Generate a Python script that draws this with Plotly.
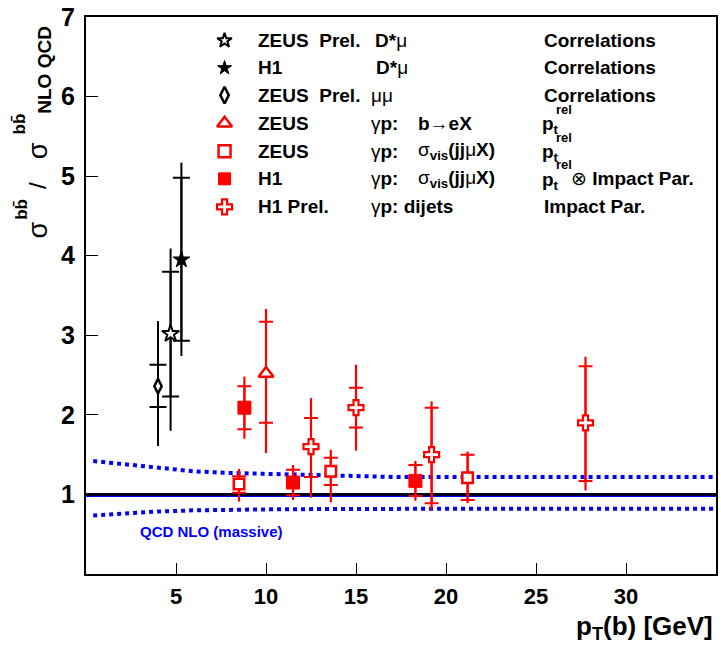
import plotly.graph_objects as go

# ---------------- data ----------------
# ZEUS Prel. D*mu correlations (open star)
zdm_x = [4.7]
zdm_y = [3.02]
zdm_tot_hi = [4.09]
zdm_tot_lo = [1.80]
zdm_st_hi = [3.80]
zdm_st_lo = [2.23]

# H1 D*mu correlations (filled star)
hdm_x = [5.3]
hdm_y = [3.95]
hdm_tot_hi = [5.17]
hdm_tot_lo = [2.74]
hdm_st_hi = [4.98]
hdm_st_lo = [2.93]

# ZEUS Prel. mu mu correlations (open diamond)
zmm_x = [4.0]
zmm_y = [2.36]
zmm_tot_hi = [3.18]
zmm_tot_lo = [1.61]
zmm_st_hi = [2.63]
zmm_st_lo = [2.10]

# ZEUS gp b->eX ptrel (open triangle)
zbe_x = [10.0]
zbe_y = [2.52]
zbe_tot_hi = [3.33]
zbe_tot_lo = [1.52]
zbe_st_hi = [3.17]
zbe_st_lo = [1.90]

# ZEUS gp sigma_vis(jj mu X) ptrel (open square)
zjj_x = [8.5, 13.6, 21.2]
zjj_y = [1.13, 1.29, 1.21]
zjj_tot_hi = [1.32, 1.56, 1.54]
zjj_tot_lo = [0.91, 0.90, 0.89]
zjj_st_hi = [1.23, 1.46, 1.50]
zjj_st_lo = [1.02, 1.12, 0.93]

# H1 gp sigma_vis(jj mu X) ptrel x impact par (filled square)
hjj_x = [8.8, 11.5, 18.3]
hjj_y = [2.09, 1.15, 1.17]
hjj_tot_hi = [2.48, 1.37, 1.42]
hjj_tot_lo = [1.70, 0.93, 0.92]
hjj_st_hi = [2.36, 1.31, 1.37]
hjj_st_lo = [1.82, 0.99, 0.98]

# H1 Prel. gp dijets impact par (open cross)
hdj_x = [12.5, 15.0, 19.2, 27.75]
hdj_y = [1.60, 2.09, 1.50, 1.90]
hdj_tot_hi = [2.21, 2.63, 2.17, 2.73]
hdj_tot_lo = [0.96, 1.55, 0.81, 1.05]
hdj_st_hi = [1.96, 2.34, 2.09, 2.61]
hdj_st_lo = [1.22, 1.84, 0.89, 1.17]

# QCD NLO (massive) uncertainty band and reference line
nlo_x = [0.4, 2, 4, 6, 8, 10, 12, 14, 17, 20, 25, 30, 35]
nlo_up = [1.42, 1.38, 1.33, 1.29, 1.27, 1.26, 1.25, 1.23, 1.22, 1.22, 1.22, 1.22, 1.22]
nlo_dn = [0.735, 0.76, 0.785, 0.80, 0.81, 0.812, 0.815, 0.818, 0.82, 0.82, 0.82, 0.82, 0.82]
nlo_central_x = [0, 35]
nlo_central = [0.98, 0.98]
ref_x = [0, 35]
ref_y = [1.0, 1.0]

x_ticks = [5, 10, 15, 20, 25, 30]
y_ticks = [1, 2, 3, 4, 5, 6, 7]

# ---------------- layout helpers ----------------
W, H = 721, 646
L, R, T, B = 86, 3, 13, 72
PW, PH = W - L - R, H - T - B
FONT = "Liberation Sans"
RED = "#ff0000"
BLUE = "#0000ff"


def fx(px):
    return (px - L) / PW


def fy(py):
    return (H - B - py) / PH


fig = go.Figure()

# NLO band (dotted) and reference lines
for band in (nlo_up, nlo_dn):
    fig.add_trace(go.Scatter(x=nlo_x, y=band, mode="lines",
                             line=dict(color=BLUE, width=4, dash="4px,4px"),
                             hoverinfo="skip", showlegend=False))
fig.add_trace(go.Scatter(x=nlo_central_x, y=nlo_central, mode="lines",
                         line=dict(color=BLUE, width=2),
                         hoverinfo="skip", showlegend=False))
fig.add_trace(go.Scatter(x=ref_x, y=ref_y, mode="lines",
                         line=dict(color="#000022", width=3),
                         hoverinfo="skip", showlegend=False))

datasets = [
    # x, y, tot_hi, tot_lo, st_hi, st_lo, symbol, fill, edge, size, lw, capw
    (zmm_x, zmm_y, zmm_tot_hi, zmm_tot_lo, zmm_st_hi, zmm_st_lo, "diamond-tall", "white", "black", 10.5, 2.5, 8.5),
    (zdm_x, zdm_y, zdm_tot_hi, zdm_tot_lo, zdm_st_hi, zdm_st_lo, "star", "white", "black", 13, 2, 8.5),
    (hdm_x, hdm_y, hdm_tot_hi, hdm_tot_lo, hdm_st_hi, hdm_st_lo, "star", "black", "black", 12.5, 1, 8.5),
    (hjj_x, hjj_y, hjj_tot_hi, hjj_tot_lo, hjj_st_hi, hjj_st_lo, "square", RED, RED, 13, 1, 7),
    (zbe_x, zbe_y, zbe_tot_hi, zbe_tot_lo, zbe_st_hi, zbe_st_lo, "triangle-up", "white", RED, 13, 2.5, 7),
    (zjj_x, zjj_y, zjj_tot_hi, zjj_tot_lo, zjj_st_hi, zjj_st_lo, "square", "white", RED, 10.5, 2.5, 7),
    (hdj_x, hdj_y, hdj_tot_hi, hdj_tot_lo, hdj_st_hi, hdj_st_lo, "cross", "white", RED, 12.5, 2.2, 7),
]

# outer (total) error lines first
for (x, y, th, tl, sh, sl, sym, fill, edge, sz, lw, capw) in datasets:
    col = "black" if edge == "black" else RED
    fig.add_trace(go.Scatter(
        x=x, y=y, mode="markers",
        marker=dict(size=1, color="rgba(0,0,0,0)"),
        error_y=dict(type="data", symmetric=False,
                     array=[h - v for h, v in zip(th, y)],
                     arrayminus=[v - l for v, l in zip(y, tl)],
                     color=col, thickness=2.2 if col == RED else 2, width=0),
        hoverinfo="skip", showlegend=False))

# inner ticks (statistical) + markers
for (x, y, th, tl, sh, sl, sym, fill, edge, sz, lw, capw) in datasets:
    col = "black" if edge == "black" else RED
    fig.add_trace(go.Scatter(
        x=x, y=y, mode="markers",
        marker=dict(symbol=sym, size=sz, color=fill, line=dict(color=edge, width=lw)),
        error_y=dict(type="data", symmetric=False,
                     array=[h - v for h, v in zip(sh, y)],
                     arrayminus=[v - l for v, l in zip(y, sl)],
                     color=col, thickness=2, width=capw),
        showlegend=False))

# legend key markers (on an overlay axis in plot-fraction units)
rows = [36.7, 64.3, 91.7, 120, 148.3, 176, 204.3]
leg_sym = [("star", "white", "black", 11, 2),
           ("star", "black", "black", 10.5, 1),
           ("diamond-tall", "white", "black", 12, 2.5),
           ("triangle-up", "white", RED, 13, 2.5),
           ("square", "white", RED, 12, 2.5),
           ("square", RED, RED, 12, 1),
           ("cross", "white", RED, 12.5, 2.2)]
for ry, (sym, fill, edge, sz, lw) in zip(rows, leg_sym):
    fig.add_trace(go.Scatter(
        x=[fx(225)], y=[fy(ry)], xaxis="x2", yaxis="y2", mode="markers",
        marker=dict(symbol=sym, size=sz, color=fill, line=dict(color=edge, width=lw)),
        hoverinfo="skip", showlegend=False))

ann = []


def txt(px, py, text, size=19, color="black", xanchor="left", angle=0, bold=False):
    ann.append(dict(x=fx(px), y=fy(py), xref="paper", yref="paper", text=text,
                    showarrow=False, xanchor=xanchor, yanchor="middle",
                    textangle=angle,
                    font=dict(family=FONT, size=size, color=color,
                              weight="bold" if bold else "normal")))


NB = "\u00a0"
col1 = ["ZEUS" + NB + NB + "Prel.", "H1", "ZEUS" + NB + NB + "Prel.", "ZEUS", "ZEUS", "H1", "H1 Prel."]
for ry, t in zip(rows, col1):
    txt(257, ry, "<b>" + t + "</b>")

txt(374, rows[0], "<b>D*</b>μ")
txt(375, rows[1], "<b>D*</b>μ")
txt(370, rows[2], "μμ")
for r in (3, 4, 5):
    txt(370, rows[r], "γ<b>p:</b>")
txt(417, rows[3], "<b>b</b>→<b>eX</b>")
sig = "σ<sub><b>vis</b></sub><b>(jj</b>μ<b>X)</b>"
txt(417, rows[4], sig)
txt(417, rows[5], sig)
txt(370, rows[6], "γ<b>p: dijets</b>")

for r in (0, 1, 2):
    txt(543, rows[r], "<b>Correlations</b>")
for r in (3, 4, 5):
    txt(541, rows[r] + 2, "<b>p<sub>t</sub></b>")
    txt(555, rows[r] - 14, "<b>rel</b>", size=13)
txt(571, rows[5], "⊗" + NB + "<b>Impact Par.</b>")
txt(543, rows[6], "<b>Impact Par.</b>")

# QCD NLO label
txt(212, 531, "<b>QCD NLO (massive)</b>", size=15, color=BLUE, xanchor="center")

# x-axis title
ann.append(dict(x=fx(717), y=fy(628), xref="paper", yref="paper",
                text="<b>p<sub>T</sub>(b) [GeV]</b>", showarrow=False,
                xanchor="right", yanchor="middle",
                font=dict(family=FONT, size=26, color="black")))

# y-axis title, composed of pieces
txt(38, 228, "σ", size=27, xanchor="center", angle=-90)
txt(21, 207, "<b>bb\u0304</b>", size=17, xanchor="center", angle=-90)
txt(38, 183, "/", size=24, xanchor="center", angle=-90)
txt(38, 148, "σ", size=27, xanchor="center", angle=-90)
txt(19, 121, "<b>bb\u0304</b>", size=17, xanchor="center", angle=-90)
txt(44, 66, "<b>NLO QCD</b>", size=19, xanchor="center", angle=-90)

fig.update_layout(
    width=W, height=H,
    margin=dict(l=L, r=R, t=T, b=B),
    paper_bgcolor="white", plot_bgcolor="white",
    showlegend=False,
    annotations=ann,
    xaxis=dict(range=[0, 35], tickvals=x_ticks, ticktext=[str(v) for v in x_ticks],
               ticks="inside", ticklen=11, tickwidth=1, tickcolor="black",
               showline=True, linecolor="black", linewidth=2, mirror=True,
               showgrid=False, zeroline=False, ticklabelstandoff=2,
               ticklabeloverflow="allow",
               tickfont=dict(family=FONT, size=22, color="black", weight="bold")),
    yaxis=dict(range=[0, 7], tickvals=y_ticks, ticktext=[str(v) for v in y_ticks],
               ticks="inside", ticklen=12, tickwidth=1, tickcolor="black",
               showline=True, linecolor="black", linewidth=2, mirror=True,
               showgrid=False, zeroline=False, ticklabelstandoff=4,
               ticklabeloverflow="allow",
               tickfont=dict(family=FONT, size=25, color="black", weight="bold")),
    xaxis2=dict(range=[0, 1], overlaying="x", anchor="y2", visible=False),
    yaxis2=dict(range=[0, 1], overlaying="y", anchor="x2", visible=False),
)

fig.write_html("out.html", config={"displayModeBar": False},
               post_script="document.body.style.margin='0px';document.body.style.padding='0px';")
